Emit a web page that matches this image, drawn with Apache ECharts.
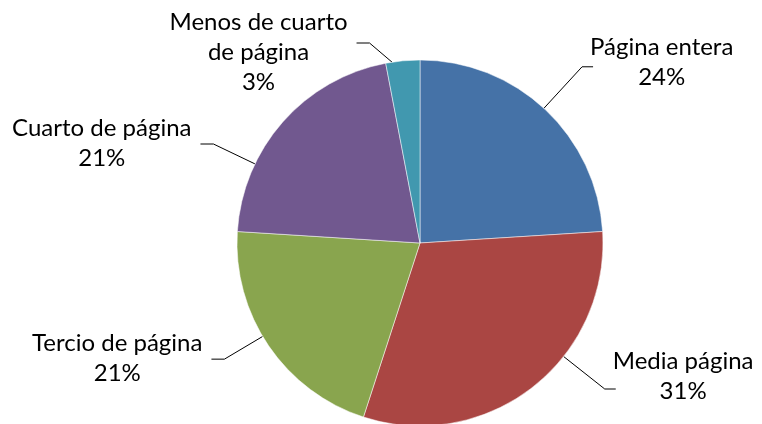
<!DOCTYPE html>
<html>
<head>
<meta charset="utf-8">
<script src="https://cdn.jsdelivr.net/npm/echarts@6/dist/echarts.min.js"></script>
<style>
  html, body { margin: 0; padding: 0; background: #fff; }
  #chart { width: 762px; height: 424px; }
</style>
</head>
<body>
<div id="chart"></div>
<script>
// Slices, clockwise from 12 o'clock
const categories = ['Página entera', 'Media página', 'Tercio de página', 'Cuarto de página', 'Menos de cuarto\nde página']
const shares = [24, 31, 21, 21, 3]
const palette = ['#4572A7', '#AA4643', '#89A54E', '#71588F', '#4198AF']
// label offsets [dx, dy, leader stub dy] to mimic the original label placement
const labelNudge = [[-3, -15, 5], [36, -17, 13], [-12, -13, 1], [-35, 20, 1], [-34, 6, -9]]

const PIE_CENTER = [420, 243]
const PIE_RADIUS = 183

const total = shares.reduce((s, v) => s + v, 0)
// angular range of each slice (degrees, clockwise from 12 o'clock)
const sliceRange = []
shares.reduce((acc, v) => {
  sliceRange.push([acc, acc + (v / total) * 360])
  return acc + (v / total) * 360
}, 0)

const chart = echarts.init(document.getElementById('chart'))

chart.setOption({
  backgroundColor: '#fff',
  animation: false,
  series: [
    {
      type: 'pie',
      center: PIE_CENTER,
      radius: PIE_RADIUS,
      startAngle: 90,
      clockwise: true,
      color: palette,
      itemStyle: { borderColor: 'rgba(255,255,255,0.5)', borderWidth: 1 },
      label: {
        show: true,
        position: 'outside',
        color: '#000',
        fontFamily: 'Lato',
        fontSize: 24,
        lineHeight: 30,
        // rich tokens with center align so each line is centred in the block
        formatter: (p) => p.name.split('\n').concat(p.percent.toFixed(0) + '%')
          .map((s) => '{c|' + s + '}').join('\n'),
        rich: {
          c: { align: 'center', fontFamily: 'Lato', fontSize: 24, lineHeight: 30, color: '#000' },
        },
      },
      labelLine: {
        show: true,
        length: 45,
        length2: 12,
        lineStyle: { color: '#000', width: 1 },
      },
      labelLayout: (params) => {
        const i = params.dataIndex
        const [dx, dy, sdy] = labelNudge[i]
        const r = params.labelRect
        const x = r.x + dx
        const y = r.y + dy
        const onRight = x + r.width / 2 > PIE_CENTER[0]
        // short horizontal stub beside the label
        const endX = onRight ? x + 3 : x + r.width + 9
        const endY = y + r.height / 2 + sdy
        const midX = onRight ? endX - 11 : endX + 13
        // leader starts on the rim, aimed at the stub, kept inside its slice
        let a = Math.atan2(midX - PIE_CENTER[0], -(endY - PIE_CENTER[1])) * 180 / Math.PI
        if (a < 0) a += 360
        const [a0, a1] = sliceRange[i]
        a = Math.min(Math.max(a, a0 + 2), a1 - 2)
        const rad = a * Math.PI / 180
        const start = [PIE_CENTER[0] + PIE_RADIUS * Math.sin(rad), PIE_CENTER[1] - PIE_RADIUS * Math.cos(rad)]
        return {
          dx, dy,
          labelLinePoints: [start, [midX, endY], [endX, endY]],
        }
      },
      data: categories.map((name, i) => ({ name, value: shares[i] })),
    },
  ],
})
</script>
</body>
</html>
